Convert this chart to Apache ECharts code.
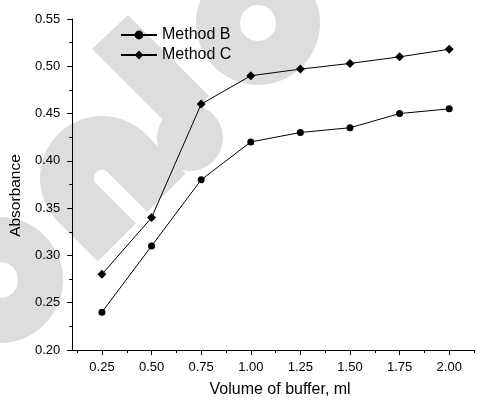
<!DOCTYPE html>
<html>
<head>
<meta charset="utf-8">
<script src="https://cdn.jsdelivr.net/npm/echarts@6/dist/echarts.min.js"></script>
<style>
html,body{margin:0;padding:0;background:#fff;}
#main{width:486px;height:403px;}
</style>
</head>
<body>
<div id="main"></div>
<script>
var volumes = [0.25, 0.50, 0.75, 1.00, 1.25, 1.50, 1.75, 2.00];
var methodB = [0.240, 0.310, 0.380, 0.420, 0.430, 0.435, 0.450, 0.455];
var methodC = [0.280, 0.340, 0.460, 0.490, 0.497, 0.503, 0.510, 0.518];
var xTickLabels = [0.25, 0.50, 0.75, 1.00, 1.25, 1.50, 1.75, 2.00];
var xMinorTicks = [0.125, 0.375, 0.625, 0.875, 1.125, 1.375, 1.625, 1.875, 2.125];

function pairs(xs, ys){ return xs.map(function(x,i){ return [x, ys[i]]; }); }

// watermark (decorative, light gray)
var WM = '#dddddd';
function nShape(){
  var cx=102, cy=178, R=62, r=8, L=56, s=Math.SQRT1_2;
  var d=[s,s], p=[s,-s];
  function pt(t,u){ return [cx + t*d[0] + u*p[0], cy + t*d[1] + u*p[1]]; }
  var pts=[];
  pts.push(pt(L, r)); pts.push(pt(0, r));
  var i, a;
  for(i=0;i<=30;i++){ a=(-45 - 180*i/30)*Math.PI/180; pts.push([cx + r*Math.cos(a), cy + r*Math.sin(a)]); }
  pts.push(pt(L, -r)); pts.push(pt(L, -R));
  for(i=0;i<=40;i++){ a=(-225 + 180*i/40)*Math.PI/180; pts.push([cx + R*Math.cos(a), cy + R*Math.sin(a)]); }
  pts.push(pt(L, R));
  return pts;
}
var T = 115, s2 = Math.SQRT1_2;
var watermark = [
  {type:'ring', z:-100, silent:true, shape:{cx:258, cy:23, r:62, r0:18}, style:{fill:WM}},
  {type:'ring', z:-100, silent:true, shape:{cx:0, cy:280, r:63, r0:18}, style:{fill:WM}},
  {type:'polygon', z:-100, silent:true, shape:{points:[[92,49],[128,15],[128+s2*T,15+s2*T],[92+s2*T,49+s2*T]]}, style:{fill:WM}},
  {type:'circle', z:-100, silent:true, shape:{cx:190, cy:138, r:33}, style:{fill:WM}},
  {type:'polygon', z:-100, silent:true, shape:{points:nShape()}, style:{fill:WM}}
];

var chart = echarts.init(document.getElementById('main'), null, {renderer:'canvas'});
var FONT = 'Liberation Sans, Arial, sans-serif';
chart.setOption({
  animation:false,
  backgroundColor:'#fff',
  textStyle:{fontFamily:FONT, color:'#000'},
  graphic:{elements:watermark},
  grid:{left:72, top:19, right:11, bottom:48, containLabel:false},
  legend:{
    data:['Method B','Method C'],
    orient:'vertical', left:115, top:20,
    itemWidth:36, itemHeight:11, itemGap:0,
    textStyle:{fontFamily:FONT, fontSize:16, color:'#000', lineHeight:20}
  },
  xAxis:[{
    type:'value', min:0.1, max:2.13,
    name:'Volume of buffer, ml', nameLocation:'middle', nameGap:32,
    nameTextStyle:{fontFamily:FONT, fontSize:16, color:'#000', padding:[0,0,0,13]},
    axisLine:{show:true, onZero:false, lineStyle:{color:'#000', width:1}},
    axisTick:{show:true, inside:false, length:5, customValues:xTickLabels, lineStyle:{color:'#000', width:1}},
    axisLabel:{show:true, margin:11, fontFamily:FONT, fontSize:13, color:'#000', customValues:xTickLabels,
      formatter:function(v){ return v.toFixed(2); }},
    splitLine:{show:false}
  },{
    type:'value', min:0.1, max:2.13, position:'bottom',
    axisLine:{show:false},
    axisTick:{show:true, inside:false, length:3, customValues:xMinorTicks, lineStyle:{color:'#000', width:1}},
    axisLabel:{show:false},
    splitLine:{show:false}
  }],
  yAxis:{
    type:'value', min:0.20, max:0.55, interval:0.05,
    name:'Absorbance', nameLocation:'middle', nameGap:42,
    nameTextStyle:{fontFamily:FONT, fontSize:15.5, color:'#000', padding:[0,22,0,0]},
    axisLine:{show:true, onZero:false, lineStyle:{color:'#000', width:1}},
    axisTick:{show:true, inside:false, length:5, lineStyle:{color:'#000', width:1}},
    minorTick:{show:true, splitNumber:2, length:3, lineStyle:{color:'#000', width:1}},
    axisLabel:{margin:12, fontFamily:FONT, fontSize:13, color:'#000',
      formatter:function(v){ return v.toFixed(2); }},
    splitLine:{show:false}
  },
  series:[{
    name:'Method B', type:'line', data:pairs(volumes, methodB),
    symbol:'circle', symbolSize:7,
    lineStyle:{color:'#000', width:1}, itemStyle:{color:'#000'}
  },{
    name:'Method C', type:'line', data:pairs(volumes, methodC),
    symbol:'diamond', symbolSize:9,
    lineStyle:{color:'#000', width:1}, itemStyle:{color:'#000'}
  }]
});
</script>
</body>
</html>
